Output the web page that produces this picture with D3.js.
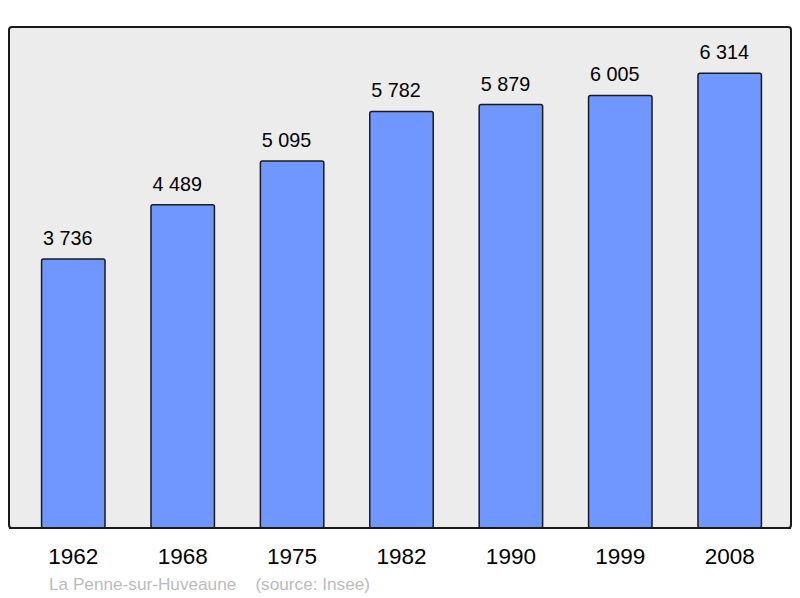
<!DOCTYPE html>
<html>
<head>
<meta charset="utf-8">
<script src="https://cdn.jsdelivr.net/npm/d3@7"></script>
<style>
  body { margin: 0; background: #fff; }
  text { font-family: "Liberation Sans", Arial, sans-serif; }
</style>
</head>
<body>
<div id="chart"></div>
<script>
var years = ["1962", "1968", "1975", "1982", "1990", "1999", "2008"];
var population = [3736, 4489, 5095, 5782, 5879, 6005, 6314];
var commune = "La Penne-sur-Huveaune";
var source = "(source: Insee)";

var width = 800, height = 598;
var frame = { left: 9, top: 27, right: 791, bottom: 528 };

var svg = d3.select("#chart").append("svg")
    .attr("width", width)
    .attr("height", height);

// plot background
svg.append("rect")
    .attr("x", frame.left)
    .attr("y", frame.top)
    .attr("width", frame.right - frame.left)
    .attr("height", frame.bottom - frame.top)
    .attr("rx", 3)
    .attr("fill", "#ececec")
    .attr("stroke", "#1a1a1a")
    .attr("stroke-width", 2);

var x = d3.scaleBand()
    .domain(years)
    .range([18.6, 784.4])
    .paddingInner(0.42)
    .paddingOuter(0.21);

var y = d3.scaleLinear()
    .domain([0, 6955])
    .range([frame.bottom, frame.top]);

var data = years.map(function(yr, i) { return { year: yr, value: population[i] }; });
var fmt = function(v) { return d3.format(",")(v).replace(/,/g, " "); };

svg.selectAll("rect.bar")
    .data(data)
    .enter().append("rect")
        .attr("class", "bar")
        .attr("x", function(d) { return x(d.year); })
        .attr("y", function(d) { return y(d.value); })
        .attr("width", x.bandwidth())
        .attr("height", function(d) { return frame.bottom - y(d.value); })
        .attr("rx", 2)
        .attr("fill", "#7097ff")
        .attr("stroke", "#1a1a1a")
        .attr("stroke-width", 1.5);

// redraw bottom frame line over bars
svg.append("line")
    .attr("x1", frame.left)
    .attr("x2", frame.right)
    .attr("y1", frame.bottom)
    .attr("y2", frame.bottom)
    .attr("stroke", "#1a1a1a")
    .attr("stroke-width", 2);

// value labels sit a little left of the bar centre
svg.selectAll("text.value")
    .data(data)
    .enter().append("text")
        .attr("class", "value")
        .attr("x", function(d) { return x(d.year) + x.bandwidth() / 2 - 5.5; })
        .attr("y", function(d) { return y(d.value) - 14; })
        .attr("text-anchor", "middle")
        .style("font-size", "19.8px")
        .attr("fill", "#000")
        .text(function(d) { return fmt(d.value); });

// year labels
var axis = d3.axisBottom(x).tickSize(0).tickPadding(20);
var g = svg.append("g")
    .attr("transform", "translate(0," + frame.bottom + ")")
    .call(axis);
g.select(".domain").remove();
g.selectAll("text")
    .style("font-size", "22.5px")
    .style("font-family", "'Liberation Sans', Arial, sans-serif")
    .attr("fill", "#000");

svg.append("text")
    .attr("x", 49)
    .attr("y", 590)
    .style("font-size", "17.2px")
    .attr("fill", "#bbbbbb")
    .attr("xml:space", "preserve")
    .text(commune + "    " + source);
</script>
</body>
</html>
